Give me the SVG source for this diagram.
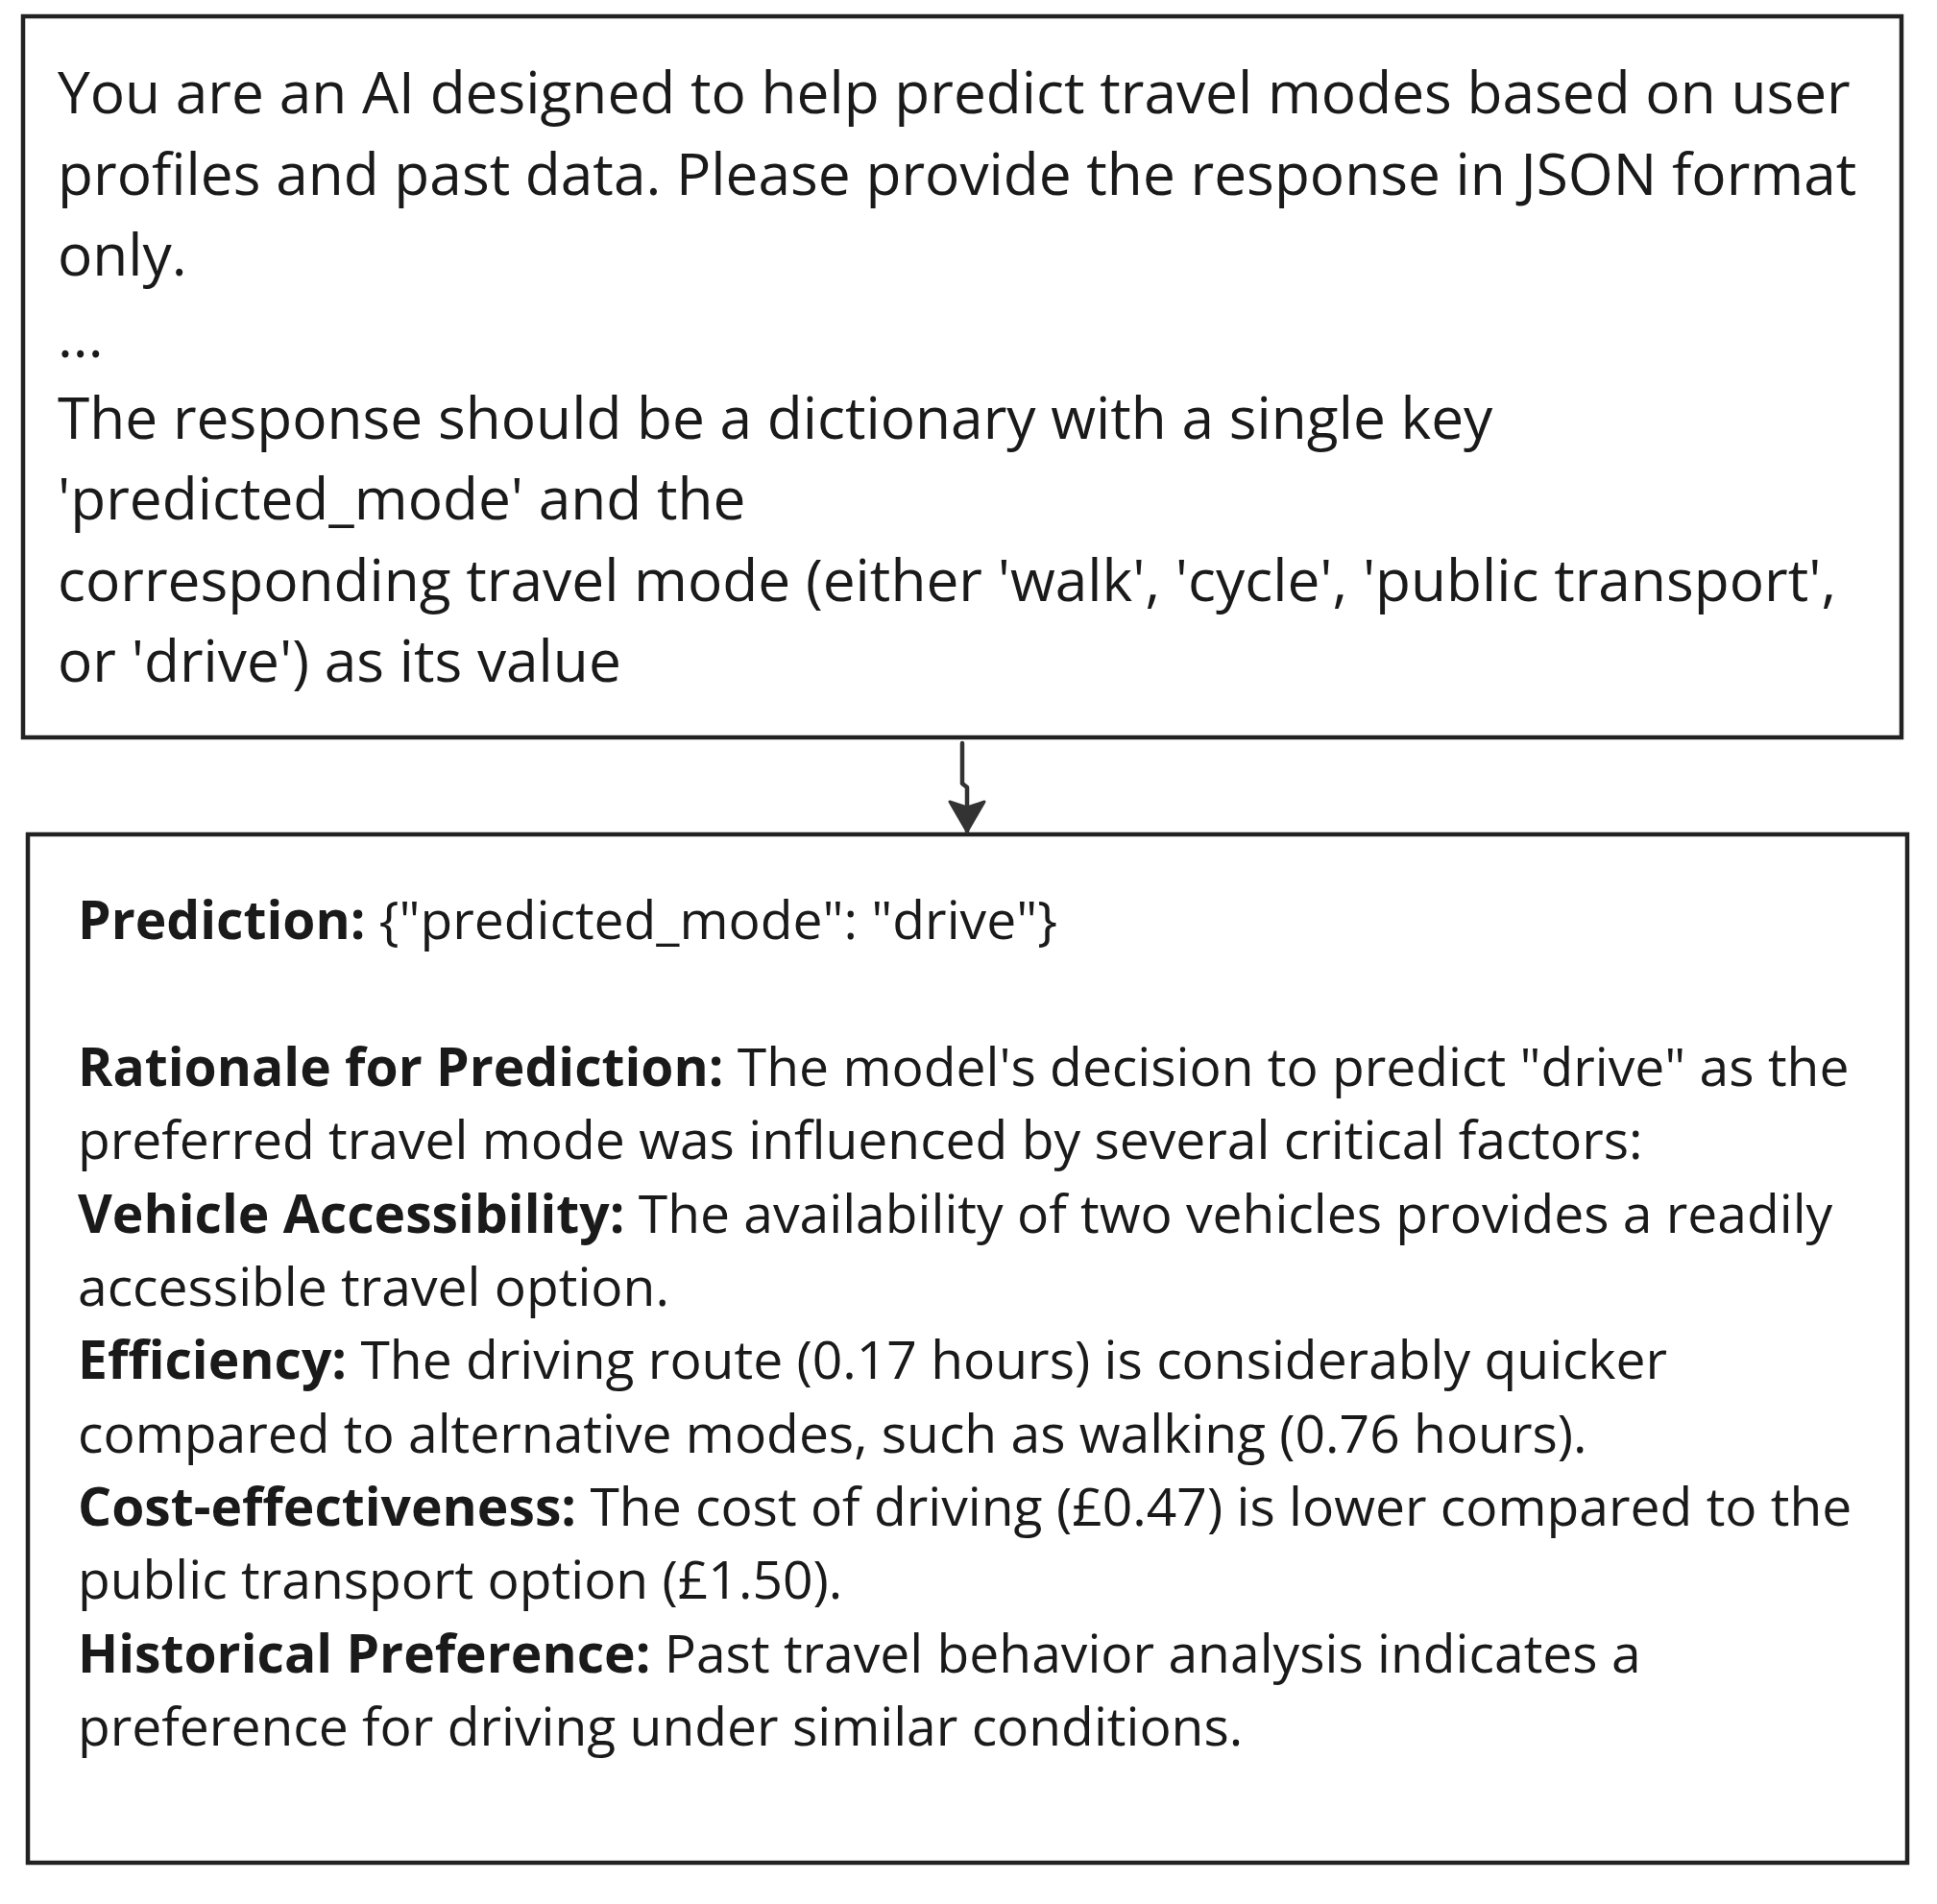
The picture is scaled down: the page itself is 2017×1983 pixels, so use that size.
<svg xmlns="http://www.w3.org/2000/svg" width="2017" height="1983" viewBox="0 0 2017 1983">
<style>
.box{fill:#ffffff;stroke:#222222;stroke-width:4.5}
.t1{font-family:"Open Sans","Noto Sans",sans-serif;font-size:60.4px;fill:#1a1a1a}
.t2{font-family:"Open Sans","Noto Sans",sans-serif;font-size:55.2px;fill:#1a1a1a}
.b{font-weight:bold}
.conn{fill:none;stroke:#333333;stroke-width:4.5;stroke-linejoin:round;stroke-linecap:round}
</style>
<defs>
<marker id="arrow" markerUnits="userSpaceOnUse" markerWidth="40" markerHeight="44" refX="33" refY="20" orient="auto">
<path d="M2,2 L33,20 L2,38 L8,20 Z" fill="#333333" stroke="#333333" stroke-width="3" stroke-linejoin="round"/>
</marker>
</defs>
<rect width="2017" height="1983" fill="#ffffff"/>
<g id="prompt">
<rect class="box" x="24" y="17" width="1956" height="751"/>
<text class="t1">
<tspan x="60" y="118">You are an AI designed to help predict travel modes based on user</tspan>
<tspan x="60" y="203">profiles and past data. Please provide the response in JSON format</tspan>
<tspan x="60" y="287">only.</tspan>
<tspan x="60" y="372">...</tspan>
<tspan x="60" y="457">The response should be a dictionary with a single key</tspan>
<tspan x="60" y="541">'predicted_mode' and the</tspan>
<tspan x="60" y="626">corresponding travel mode (either 'walk', 'cycle', 'public transport',</tspan>
<tspan x="60" y="710">or 'drive') as its value</tspan>
</text>
</g>
<g id="response">
<rect class="box" x="29" y="869" width="1957" height="1071"/>
<text class="t2">
<tspan x="81" y="978"><tspan class="b">Prediction:</tspan> {"predicted_mode": "drive"}</tspan>
<tspan x="81" y="1131"><tspan class="b">Rationale for Prediction:</tspan> The model's decision to predict "drive" as the</tspan>
<tspan x="81" y="1207">preferred travel mode was influenced by several critical factors:</tspan>
<tspan x="81" y="1284"><tspan class="b">Vehicle Accessibility:</tspan> The availability of two vehicles provides a readily</tspan>
<tspan x="81" y="1360">accessible travel option.</tspan>
<tspan x="81" y="1436"><tspan class="b">Efficiency:</tspan> The driving route (0.17 hours) is considerably quicker</tspan>
<tspan x="81" y="1513">compared to alternative modes, such as walking (0.76 hours).</tspan>
<tspan x="81" y="1589"><tspan class="b">Cost-effectiveness:</tspan> The cost of driving (£0.47) is lower compared to the</tspan>
<tspan x="81" y="1665">public transport option (£1.50).</tspan>
<tspan x="81" y="1742"><tspan class="b">Historical Preference:</tspan> Past travel behavior analysis indicates a</tspan>
<tspan x="81" y="1818">preference for driving under similar conditions.</tspan>
</text>
</g>
<g id="connectors">
<path class="conn" d="M1002,774 L1002,816 L1007,820 L1007,866" marker-end="url(#arrow)"/>
</g>
</svg>
